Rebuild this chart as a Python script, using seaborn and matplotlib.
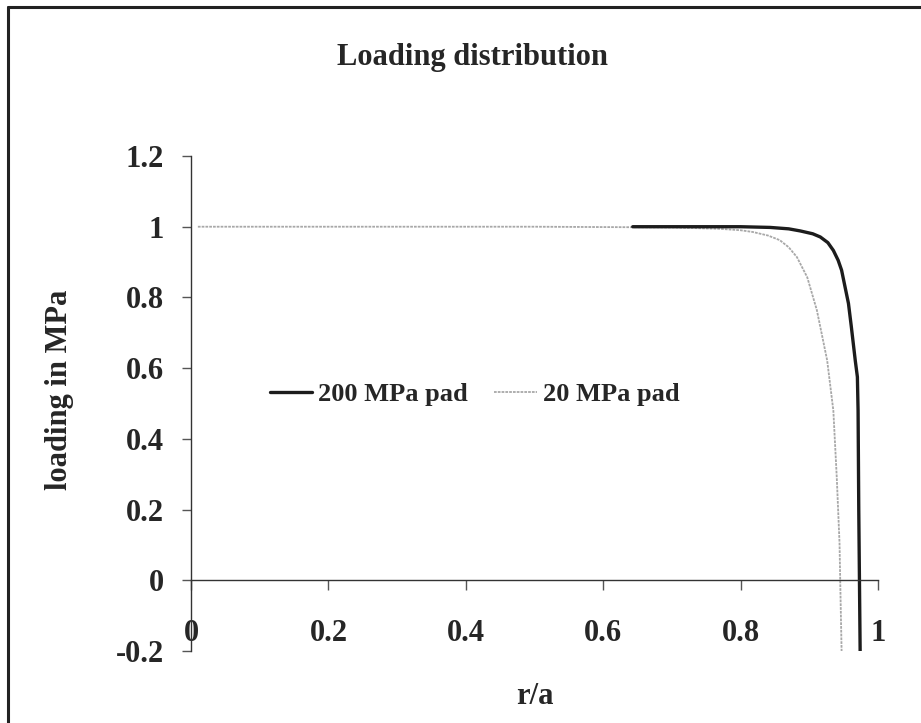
import matplotlib
matplotlib.use("Agg")
import matplotlib.pyplot as plt
from matplotlib.lines import Line2D
import seaborn as sns
import pandas as pd

# ---- data ----
r_200 = [0.643, 0.70, 0.80, 0.843, 0.870, 0.887, 0.905, 0.916, 0.927, 0.935,
         0.942, 0.947, 0.952, 0.957, 0.961, 0.964, 0.967, 0.970, 0.971, 0.972, 0.974]
load_200 = [1.0, 1.0, 1.0, 0.998, 0.994, 0.988, 0.980, 0.971, 0.955, 0.933,
            0.905, 0.877, 0.830, 0.783, 0.720, 0.670, 0.620, 0.575, 0.48, 0.20, -0.20]

r_20 = [0.01, 0.50, 0.70, 0.77, 0.80, 0.818, 0.840, 0.857, 0.870, 0.882, 0.897,
        0.911, 0.926, 0.935, 0.940, 0.944, 0.945, 0.947]
load_20 = [1.0, 1.0, 0.998, 0.994, 0.990, 0.985, 0.975, 0.962, 0.942, 0.914, 0.857,
           0.764, 0.622, 0.48, 0.29, 0.105, 0.0, -0.20]

series_names = ["200 MPa pad", "20 MPa pad"]
x_ticks = [0, 0.2, 0.4, 0.6, 0.8, 1]
x_tick_labels = ["0", "0.2", "0.4", "0.6", "0.8", "1"]
y_ticks = [-0.2, 0, 0.2, 0.4, 0.6, 0.8, 1.0, 1.2]
y_tick_labels = ["-0.2", "0", "0.2", "0.4", "0.6", "0.8", "1", "1.2"]

df200 = pd.DataFrame({"r/a": r_200, "loading": load_200})
df20 = pd.DataFrame({"r/a": r_20, "loading": load_20})

sns.set_theme(style="white")
plt.rcParams["font.family"] = ["Liberation Serif", "DejaVu Serif"]
plt.rcParams["font.weight"] = "bold"

fig = plt.figure(figsize=(9.21, 7.23), dpi=100)
L, R = 191 / 921, 878 / 921
B, T = 1 - 651 / 723, 1 - 156 / 723
ax = fig.add_axes([L, B, R - L, T - B])

black = "#1c1c1c"
gray = "#a8a8a8"
gray_style = (0, (1.5, 0.6))
sns.lineplot(data=df20, x="r/a", y="loading", ax=ax, color=gray, lw=1.3,
             linestyle=gray_style, sort=False, estimator=None)
sns.lineplot(data=df200, x="r/a", y="loading", ax=ax, color=black, lw=2.4,
             sort=False, estimator=None)

ax.set_xlim(0, 1)
ax.set_ylim(-0.2, 1.2)
ax.set_xticks(x_ticks)
ax.set_xticklabels(x_tick_labels)
ax.set_yticks(y_ticks)
ax.set_yticklabels(y_tick_labels)

for s in ["top", "right"]:
    ax.spines[s].set_visible(False)
ax.spines["bottom"].set_position(("data", 0))
ax.spines["bottom"].set_color("#333333")
ax.spines["left"].set_color("#333333")
ax.spines["bottom"].set_linewidth(1.0)
ax.spines["left"].set_linewidth(1.0)

ax.tick_params(axis="x", direction="out", length=7, width=1, color="#555555",
               pad=21, labelsize=22, bottom=True)
ax.tick_params(axis="y", direction="out", length=6.5, width=1, color="#555555",
               pad=13, labelsize=22, left=True)
for lab in ax.get_xticklabels() + ax.get_yticklabels():
    lab.set_fontweight("bold")

ax.set_xlabel("")
ax.set_ylabel("")
fig.text((L + R) / 2, 1 - 697 / 723, "r/a", ha="center", va="center",
         fontsize=22, fontweight="bold")
fig.text(59 / 921, 1 - 390 / 723, "loading in MPa", ha="center", va="center",
         rotation=90, fontsize=22, fontweight="bold")
fig.text(472 / 921, 1 - 57 / 723, "Loading distribution", ha="center",
         va="center", fontsize=22, fontweight="bold")

handles = [Line2D([], [], color=black, lw=2.4),
           Line2D([], [], color=gray, lw=1.3, linestyle=gray_style)]
ax.legend(handles, series_names, loc="center", bbox_to_anchor=(0.413, 0.518),
          ncol=2, frameon=False, handlelength=1.6, handletextpad=0.25,
          columnspacing=1.0, prop={"size": 19, "weight": "bold"})

# outer frame (only top and left edges visible in the reference)
fig.add_artist(Line2D([8 / 921, 1.0], [1 - 7 / 723, 1 - 7 / 723],
                      transform=fig.transFigure, color="#222222", lw=2.2))
fig.add_artist(Line2D([8 / 921, 8 / 921], [1 - 7 / 723, 0.0],
                      transform=fig.transFigure, color="#222222", lw=2.2))

fig.savefig("out.png", dpi=100, facecolor="white")
